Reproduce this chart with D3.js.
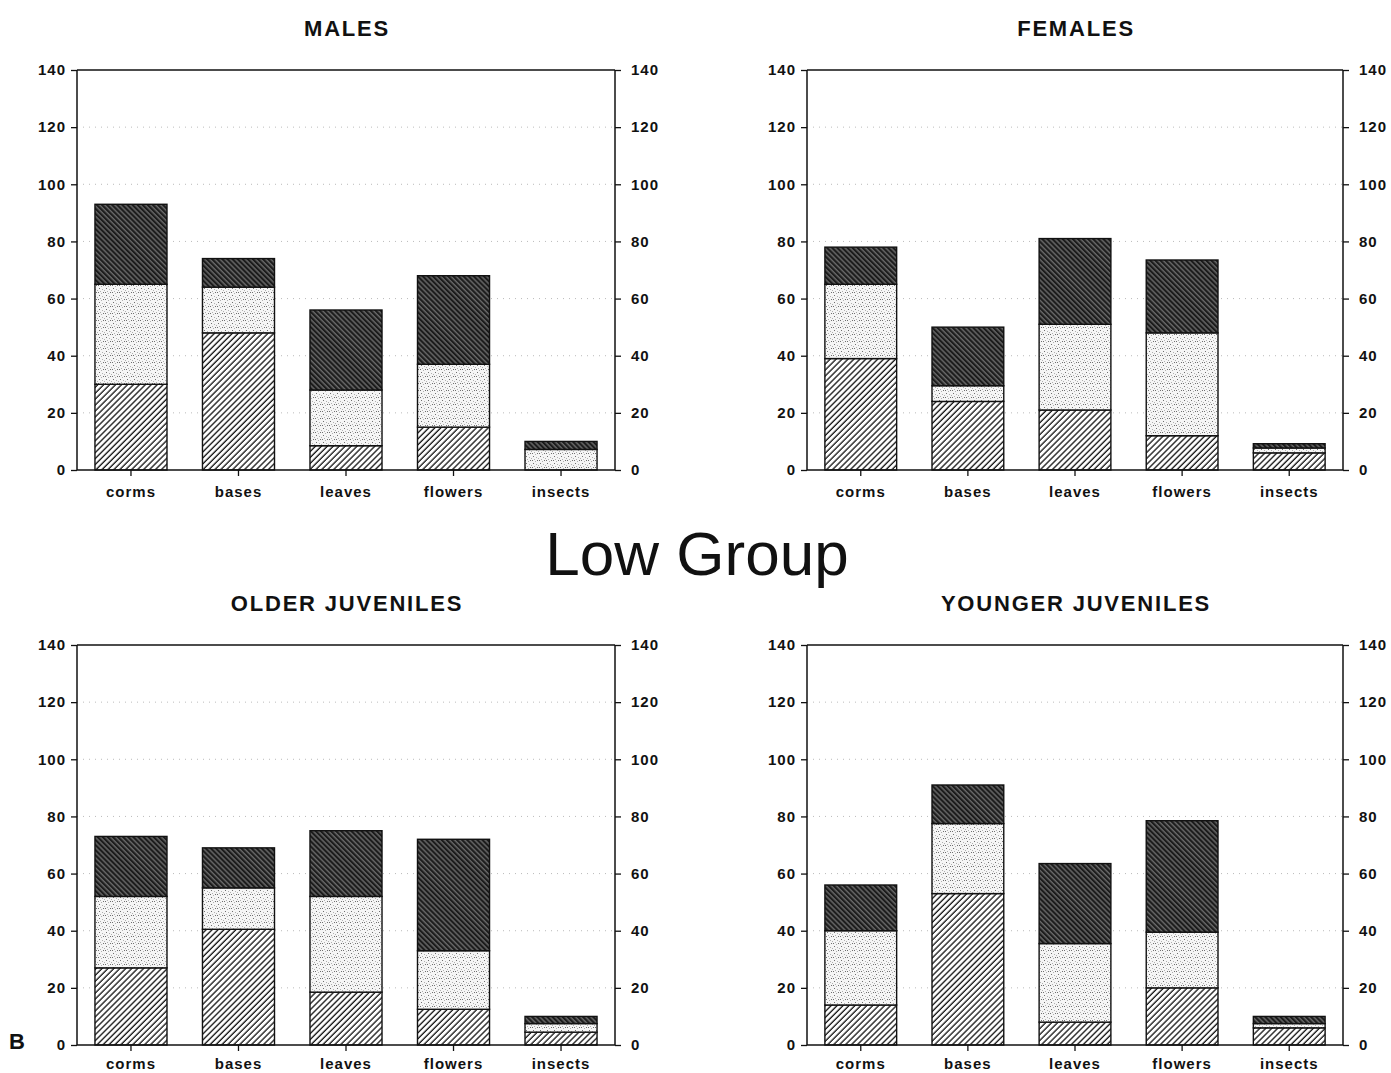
<!DOCTYPE html>
<html>
<head>
<meta charset="utf-8">
<script src="https://cdn.jsdelivr.net/npm/d3@7"></script>
<style>
  body { margin: 0; background: #fff; }
  svg { display: block; font-family: "Liberation Sans", Arial, Helvetica, sans-serif; }
</style>
</head>
<body>
<svg id="chart" width="1391" height="1073"></svg>
<script>
// ---- data ----
const categories = ["corms", "bases", "leaves", "flowers", "insects"];
const yTicks = [0, 20, 40, 60, 80, 100, 120, 140];

// segment values (bottom hatched, middle stippled, top dark)
const malesBottom = [30, 48, 8.5, 15, 0];
const malesMiddle = [35, 16, 19.5, 22, 7.2];
const malesTop    = [28, 10, 28, 31, 2.8];

const femalesBottom = [39, 24, 21, 12, 6];
const femalesMiddle = [26, 5.5, 30, 36, 1.7];
const femalesTop    = [13, 20.5, 30, 25.5, 1.5];

const olderBottom = [27, 40.5, 18.5, 12.5, 4.5];
const olderMiddle = [25, 14.5, 33.5, 20.5, 3];
const olderTop    = [21, 14, 23, 39, 2.5];

const youngerBottom = [14, 53, 8, 20, 6];
const youngerMiddle = [26, 24.5, 27.5, 19.5, 1.5];
const youngerTop    = [16, 13.5, 28, 39, 2.5];

const panelTitles = ["MALES", "FEMALES", "OLDER JUVENILES", "YOUNGER JUVENILES"];
const mainTitle = "Low Group";
const panelLetter = "B";

// ---- layout ----
const panels = [
  { title: panelTitles[0], series: [malesBottom, malesMiddle, malesTop],       x0: 77,  x1: 615,  yZero: 470,  yTop: 70,  titleY: 36,  labPad: 10 },
  { title: panelTitles[1], series: [femalesBottom, femalesMiddle, femalesTop], x0: 807, x1: 1343, yZero: 470,  yTop: 70,  titleY: 36,  labPad: 10 },
  { title: panelTitles[2], series: [olderBottom, olderMiddle, olderTop],       x0: 77,  x1: 615,  yZero: 1045, yTop: 645, titleY: 611, labPad: 7 },
  { title: panelTitles[3], series: [youngerBottom, youngerMiddle, youngerTop], x0: 807, x1: 1343, yZero: 1045, yTop: 645, titleY: 611, labPad: 7 }
];

const svg = d3.select("#chart");
const defs = svg.append("defs");

// bottom: "/" hatch
const p1 = defs.append("pattern").attr("id", "hatchLight").attr("patternUnits", "userSpaceOnUse")
  .attr("width", 4.2).attr("height", 4.2).attr("patternTransform", "rotate(45)");
p1.append("rect").attr("width", 4.2).attr("height", 4.2).attr("fill", "#fff");
p1.append("line").attr("x1", 1).attr("y1", 0).attr("x2", 1).attr("y2", 4.2).attr("stroke", "#111").attr("stroke-width", 1.3);

// middle: stipple
const p2 = defs.append("pattern").attr("id", "stipple").attr("patternUnits", "userSpaceOnUse")
  .attr("width", 7).attr("height", 7);
p2.append("rect").attr("width", 7).attr("height", 7).attr("fill", "#f5f5f5");
[[1,1],[4,2],[2,4],[5,5],[6,3],[3,6],[0,5]].forEach(([x, y], i) => {
  p2.append("rect").attr("x", x).attr("y", y).attr("width", 1).attr("height", 1)
    .attr("fill", i % 3 === 0 ? "#6f6f6f" : "#b0b0b0");
});

// top: dark "\" hatch
const p3 = defs.append("pattern").attr("id", "hatchDark").attr("patternUnits", "userSpaceOnUse")
  .attr("width", 3.6).attr("height", 3.6).attr("patternTransform", "rotate(-45)");
p3.append("rect").attr("width", 3.6).attr("height", 3.6).attr("fill", "#1c1c1c");
p3.append("line").attr("x1", 1).attr("y1", 0).attr("x2", 1).attr("y2", 3.6).attr("stroke", "#a8a8a8").attr("stroke-width", 0.8);

const fills = ["url(#hatchLight)", "url(#stipple)", "url(#hatchDark)"];

panels.forEach(p => {
  const g = svg.append("g");
  const x = d3.scaleBand().domain(categories).range([p.x0, p.x1]).paddingInner(0.33).paddingOuter(0.167);
  const y = d3.scaleLinear().domain([0, 140]).range([p.yZero, p.yTop]);

  // grid (faint dotted)
  g.append("g").selectAll("line").data(yTicks.filter(t => t > 0 && t < 140)).join("line")
    .attr("x1", p.x0).attr("x2", p.x1).attr("y1", d => y(d)).attr("y2", d => y(d))
    .attr("stroke", "#aaa").attr("stroke-width", 0.8).attr("stroke-dasharray", "1,5");

  // stacked bars
  const rows = categories.map((c, i) => {
    const o = { cat: c };
    p.series.forEach((s, k) => o["s" + k] = s[i]);
    return o;
  });
  const stack = d3.stack().keys(["s0", "s1", "s2"])(rows);
  stack.forEach((layer, k) => {
    g.append("g").selectAll("rect").data(layer.filter(d => d[1] - d[0] > 0)).join("rect")
      .attr("x", d => x(d.data.cat)).attr("width", x.bandwidth())
      .attr("y", d => y(d[1])).attr("height", d => y(d[0]) - y(d[1]))
      .attr("fill", fills[k]).attr("stroke", "#111").attr("stroke-width", 1.4);
  });

  // axes
  const fmt = d3.format("d");
  const left = g.append("g").attr("transform", `translate(${p.x0},0)`)
    .call(d3.axisLeft(y).tickValues(yTicks).tickFormat(fmt).tickSize(6).tickPadding(5));
  const right = g.append("g").attr("transform", `translate(${p.x1},0)`)
    .call(d3.axisRight(y).tickValues(yTicks).tickFormat(fmt).tickSize(6).tickPadding(10));
  const bottom = g.append("g").attr("transform", `translate(0,${p.yZero})`)
    .call(d3.axisBottom(x).tickSize(6).tickPadding(p.labPad));
  [left, right, bottom].forEach(a => {
    a.select(".domain").attr("stroke", "#111").attr("stroke-width", 1.5);
    a.selectAll(".tick line").attr("stroke", "#111").attr("stroke-width", 1.3);
    a.selectAll("text").attr("fill", "#111").attr("font-size", 15).attr("font-weight", "bold")
      .attr("letter-spacing", 1).attr("font-family", "'Liberation Sans', Arial, sans-serif");
  });
  bottom.select(".domain").attr("d", `M${p.x0},0H${p.x1}`);
  left.select(".domain").attr("d", `M0,${p.yZero}V${p.yTop}`);
  right.select(".domain").attr("d", `M0,${p.yZero}V${p.yTop}`);
  // top frame line
  g.append("line").attr("x1", p.x0).attr("x2", p.x1).attr("y1", p.yTop).attr("y2", p.yTop)
    .attr("stroke", "#111").attr("stroke-width", 1.5);

  // panel title
  g.append("text").attr("x", (p.x0 + p.x1) / 2 + 1).attr("y", p.titleY)
    .attr("text-anchor", "middle").attr("font-size", 22).attr("font-weight", "bold")
    .attr("letter-spacing", 1.8).attr("fill", "#111").text(p.title);
});

svg.append("text").attr("x", 697).attr("y", 575).attr("text-anchor", "middle")
  .attr("font-size", 62).attr("fill", "#111").text(mainTitle);

svg.append("text").attr("x", 9).attr("y", 1049).attr("font-size", 22).attr("font-weight", "bold")
  .attr("fill", "#111").text(panelLetter);
</script>
</body>
</html>
